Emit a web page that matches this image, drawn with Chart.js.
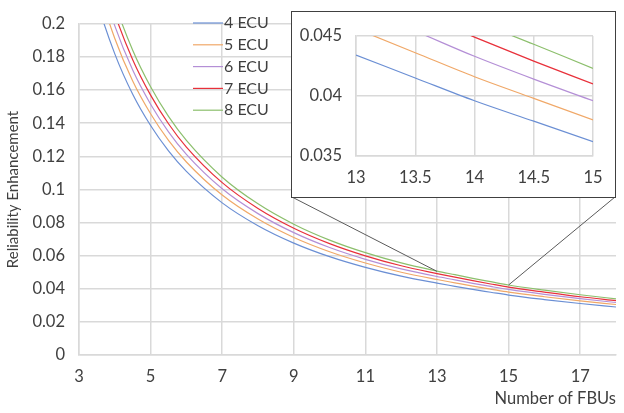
<!DOCTYPE html>
<html>
<head>
<meta charset="utf-8">
<script src="https://cdn.jsdelivr.net/npm/chart.js@4.4.1/dist/chart.umd.min.js"></script>
<style>
  html, body { margin: 0; padding: 0; background: #fff; }
  #wrap { position: relative; width: 624px; height: 413px; }
  #main { position: absolute; left: 0; top: 0; }
  #inset { position: absolute; left: 291px; top: 11px; width: 323px; height: 185px;
           border: 1.5px solid #404040; background: #fff; }
</style>
</head>
<body>
<div id="wrap">
  <canvas id="main" width="624" height="413"></canvas>
  <div id="inset"><canvas id="zoom" width="323" height="185"></canvas></div>
</div>
<script>
(function(){
  'use strict';

  // number of FBUs
  var fbus = [3, 3.5, 4, 4.5, 5, 5.5, 6, 7, 8, 9, 10, 11, 12, 13, 13.5, 14, 14.5, 15, 16, 17, 18];

  var labels = ['4 ECU', '5 ECU', '6 ECU', '7 ECU', '8 ECU'];
  var colors = ['#6b8fd4', '#f0a868', '#b48fd6', '#e8303a', '#8cbf6c'];

  var ecu4 = [0.2584,0.2141,0.1819,0.1575,0.1386,0.1233,0.1109,0.0919,0.0781,0.0676,0.0594,0.0529,0.0476,0.0434,0.0415,0.0396,0.0379,0.0362,0.0335,0.0311,0.0290];
  var ecu5 = [0.2716,0.2250,0.1912,0.1655,0.1457,0.1296,0.1166,0.0966,0.0821,0.0710,0.0624,0.0556,0.0500,0.0456,0.0436,0.0416,0.0398,0.0380,0.0352,0.0327,0.0305];
  var ecu6 = [0.2824,0.2340,0.1988,0.1721,0.1515,0.1348,0.1212,0.1004,0.0854,0.0739,0.0649,0.0578,0.0520,0.0474,0.0454,0.0433,0.0414,0.0396,0.0366,0.0340,0.0317];
  var ecu7 = [0.2928,0.2426,0.2061,0.1784,0.1570,0.1397,0.1256,0.1041,0.0885,0.0766,0.0673,0.0599,0.0539,0.0492,0.0470,0.0449,0.0429,0.0410,0.0380,0.0352,0.0329];
  var ecu8 = [0.3021,0.2503,0.2126,0.1841,0.1620,0.1441,0.1296,0.1074,0.0913,0.0790,0.0694,0.0618,0.0556,0.0507,0.0485,0.0463,0.0443,0.0423,0.0392,0.0364,0.0339];
  var series = [ecu4, ecu5, ecu6, ecu7, ecu8];

  var yTicksMain = [0, 0.02, 0.04, 0.06, 0.08, 0.1, 0.12, 0.14, 0.16, 0.18, 0.2];
  var xTicksMain = [3, 5, 7, 9, 11, 13, 15, 17];
  var yTicksZoom = [0.035, 0.04, 0.045];
  var xTicksZoom = [13, 13.5, 14, 14.5, 15];

  var font = { family: 'Lato', size: 16.5 };
  var gridColor = '#d9d9d9';
  var textColor = '#404040';

  function makeDatasets(lo, hi){
    return series.map(function(s, i){
      var pts = [];
      fbus.forEach(function(x, j){
        if (x >= lo && x <= hi) pts.push({ x: x, y: s[j] });
      });
      return {
        label: labels[i],
        data: pts,
        borderColor: colors[i],
        borderWidth: 1.2,
        pointRadius: 0,
        fill: false,
        cubicInterpolationMode: 'monotone'
      };
    });
  }

  function fixedTicks(list){
    return function(scale){
      scale.ticks = list.map(function(v){ return { value: v }; });
    };
  }

  function plain(v){ return String(+v.toFixed(4)); }

  // legend inside the plot + connector lines to the inset
  var extras = {
    id: 'extras',
    afterDraw: function(chart){
      var ctx = chart.ctx;
      ctx.save();
      ctx.font = '16px Lato';
      ctx.textBaseline = 'middle';
      ctx.fillStyle = textColor;
      chart.data.datasets.forEach(function(ds, i){
        var y = 23 + i * 21.8;
        ctx.strokeStyle = ds.borderColor;
        ctx.lineWidth = 1.2;
        ctx.beginPath();
        ctx.moveTo(193, y);
        ctx.lineTo(223, y);
        ctx.stroke();
        ctx.fillText(ds.label, 224, y);
      });
      var xs = chart.scales.x, ys = chart.scales.y;
      ctx.strokeStyle = '#5a5a5a';
      ctx.lineWidth = 1;
      ctx.beginPath();
      ctx.moveTo(xs.getPixelForValue(13), ys.getPixelForValue(0.0505));
      ctx.lineTo(292, 197);
      ctx.moveTo(xs.getPixelForValue(15), ys.getPixelForValue(0.0423));
      ctx.lineTo(615, 197);
      ctx.stroke();
      ctx.restore();
    }
  };

  new Chart(document.getElementById('main').getContext('2d'), {
    type: 'line',
    data: { datasets: makeDatasets(3, 18) },
    plugins: [extras],
    options: {
      responsive: false,
      animation: false,
      layout: { padding: { top: 13, right: 8, left: 0, bottom: 0 } },
      plugins: { legend: { display: false }, tooltip: { enabled: false } },
      scales: {
        x: {
          type: 'linear', min: 3, max: 18,
          afterBuildTicks: fixedTicks(xTicksMain),
          afterFit: function(s){ s.height = 58; },
          grid: { color: gridColor, lineWidth: 1.5, drawTicks: false },
          border: { color: gridColor, width: 1.5 },
          ticks: { color: textColor, font: font, padding: 12, callback: plain },
          title: { display: true, text: 'Number of FBUs', align: 'end', color: textColor, font: font, padding: { top: 0 } }
        },
        y: {
          min: 0, max: 0.2,
          afterBuildTicks: fixedTicks(yTicksMain),
          afterFit: function(s){ s.width = 79; },
          grid: { color: gridColor, lineWidth: 1.5, drawTicks: false },
          border: { color: gridColor, width: 1.5 },
          ticks: { color: textColor, font: font, padding: 14, callback: plain },
          title: { display: true, text: 'Reliability Enhancement', color: textColor, font: { family: 'Lato', size: 15 }, padding: { bottom: 0 } }
        }
      }
    }
  });

  new Chart(document.getElementById('zoom').getContext('2d'), {
    type: 'line',
    data: { datasets: makeDatasets(13, 15) },
    options: {
      responsive: false,
      animation: false,
      layout: { padding: { top: 18, right: 22, left: 0, bottom: 0 } },
      plugins: { legend: { display: false }, tooltip: { enabled: false } },
      scales: {
        x: {
          type: 'linear', min: 13, max: 15,
          afterBuildTicks: fixedTicks(xTicksZoom),
          afterFit: function(s){ s.height = 41; },
          grid: { color: gridColor, lineWidth: 1.5, drawTicks: false },
          border: { color: gridColor, width: 1.5 },
          ticks: { color: textColor, font: font, padding: 12, callback: plain }
        },
        y: {
          min: 0.035, max: 0.045,
          afterBuildTicks: fixedTicks(yTicksZoom),
          afterFit: function(s){ s.width = 64; },
          grid: { color: gridColor, lineWidth: 1.5, drawTicks: false },
          border: { color: gridColor, width: 1.5 },
          ticks: { color: textColor, font: font, padding: 14, callback: plain }
        }
      }
    }
  });
})();
</script>
</body>
</html>
